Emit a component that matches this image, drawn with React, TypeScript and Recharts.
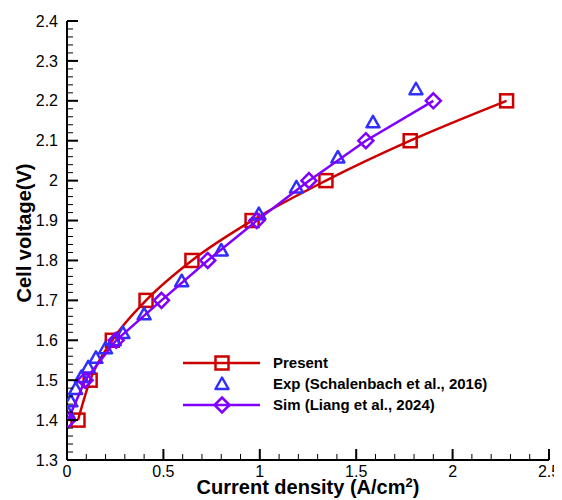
import React from "react";
import { ComposedChart, Scatter, XAxis, YAxis, Legend } from "recharts";

// Present model (red squares, smooth line)
const presentX = [0.057, 0.12, 0.235, 0.41, 0.648, 0.96, 1.343, 1.78, 2.28];
const presentY = [1.4, 1.5, 1.6, 1.7, 1.8, 1.9, 2.0, 2.1, 2.2];
// Experiment, Schalenbach et al. 2016 (blue triangles, no line)
const expX = [0.005, 0.02, 0.045, 0.075, 0.11, 0.15, 0.2, 0.245, 0.29, 0.4, 0.595, 0.8, 0.995, 1.19, 1.405, 1.587, 1.81];
const expY = [1.418, 1.447, 1.478, 1.508, 1.532, 1.556, 1.58, 1.6, 1.618, 1.665, 1.748, 1.825, 1.916, 1.983, 2.058, 2.146, 2.229];
// Simulation, Liang et al. 2024 (purple diamonds)
const simX = [0.005, 0.094, 0.255, 0.49, 0.73, 0.985, 1.255, 1.55, 1.9];
const simY = [1.4, 1.5, 1.6, 1.7, 1.8, 1.9, 2.0, 2.1, 2.2];

const xMajor = [0, 0.5, 1, 1.5, 2, 2.5];
const yMajor = [1.3, 1.4, 1.5, 1.6, 1.7, 1.8, 1.9, 2.0, 2.1, 2.2, 2.3, 2.4];
const xTicks = Array.from({ length: 26 }, (_, i) => Math.round(i * 10) / 100);
const yTicks = Array.from({ length: 56 }, (_, i) => Math.round(130 + i * 2) / 100);

const RED = "#cc0000";
const BLUE = "#2f2fff";
const PURPLE = "#8000ff";
const FONT = "'Liberation Sans', Arial, sans-serif";

const toPts = (xs: number[], ys: number[]) => xs.map((x, i) => ({ x, y: ys[i] }));
const presentData = toPts(presentX, presentY);
const expData = toPts(expX, expY);
const simData = toPts(simX, simY);

const isMajor = (v: number, list: number[]) => list.some((m) => Math.abs(m - v) < 1e-6);
const fmt = (v: number) => String(Number(v.toFixed(1)));

const Square = ({ cx, cy }: any) => (
  <rect x={cx - 6.5} y={cy - 6.5} width={13} height={13} fill="none" stroke={RED} strokeWidth={2.5} />
);
const Triangle = ({ cx, cy }: any) => (
  <path d={`M${cx},${cy - 6.5} L${cx + 6.5},${cy + 5} L${cx - 6.5},${cy + 5} Z`} fill="none" stroke={BLUE} strokeWidth={2.5} strokeLinejoin="round" />
);
const Diamond = ({ cx, cy }: any) => (
  <path d={`M${cx},${cy - 7.5} L${cx + 7.5},${cy} L${cx},${cy + 7.5} L${cx - 7.5},${cy} Z`} fill="none" stroke={PURPLE} strokeWidth={2.5} />
);

const BottomTick = ({ x, y, payload }: any) => {
  const major = isMajor(payload.value, xMajor);
  return (
    <g>
      <line x1={x} x2={x} y1={y} y2={y - (major ? 11 : 6)} stroke="#000" strokeWidth={major ? 2 : 1} />
      {major && (
        <text x={x} y={y + 17} textAnchor="middle" fontSize={16} fontFamily={FONT} fill="#000">
          {fmt(payload.value)}
        </text>
      )}
    </g>
  );
};
const TopTick = ({ x, y, payload }: any) => {
  const major = isMajor(payload.value, xMajor);
  return <line x1={x} x2={x} y1={y} y2={y + (major ? 11 : 6)} stroke="#000" strokeWidth={major ? 2 : 1} />;
};
const LeftTick = ({ x, y, payload }: any) => {
  const major = isMajor(payload.value, yMajor);
  return (
    <g>
      <line x1={x} x2={x + (major ? 11 : 6)} y1={y} y2={y} stroke="#000" strokeWidth={major ? 2 : 1} />
      {major && (
        <text x={x - 9} y={y} dy="0.35em" textAnchor="end" fontSize={16} fontFamily={FONT} fill="#000">
          {fmt(payload.value)}
        </text>
      )}
    </g>
  );
};
const RightTick = ({ x, y, payload }: any) => {
  const major = isMajor(payload.value, yMajor);
  return <line x1={x} x2={x - (major ? 11 : 6)} y1={y} y2={y} stroke="#000" strokeWidth={major ? 2 : 1} />;
};

const legendItems = [
  { name: "Present", color: RED, line: true, Mark: Square },
  { name: "Exp (Schalenbach et al., 2016)", color: BLUE, line: false, Mark: Triangle },
  { name: "Sim (Liang et al., 2024)", color: PURPLE, line: true, Mark: Diamond },
];

const LegendBox = () => (
  <svg width={370} height={75}>
    {legendItems.map((it, i) => {
      const y = 15 + i * 21;
      return (
        <g key={it.name}>
          {it.line && <line x1={5} x2={82} y1={y} y2={y} stroke={it.color} strokeWidth={2.5} />}
          <it.Mark cx={44} cy={y} />
          <text x={95} y={y} dy="0.35em" fontSize={15} fontWeight="bold" fontFamily={FONT} fill="#000">
            {it.name}
          </text>
        </g>
      );
    })}
  </svg>
);

export default function App() {
  return (
    <div style={{ width: 560, height: 492, fontFamily: FONT }}>
      <ComposedChart width={560} height={492} margin={{ top: 13, right: 19, bottom: 0, left: 0 }}>
        <XAxis xAxisId="b" dataKey="x" type="number" domain={[0, 2.5]} ticks={xTicks} interval={0} allowDataOverflow
          height={40} tickSize={0} tickMargin={0} tickLine={false} tick={<BottomTick />}
          axisLine={{ stroke: "#000", strokeWidth: 2 }}
          label={{
            content: () => (
              <text x={300} y={486} textAnchor="middle" fontSize={20} fontWeight="bold" fontFamily={FONT} fill="#000">
                Current density (A/cm<tspan dy={-7} fontSize={13}>2</tspan><tspan dy={7}>)</tspan>
              </text>
            ),
          }} />
        <XAxis xAxisId="t" orientation="top" dataKey="x" type="number" domain={[0, 2.5]} ticks={xTicks} interval={0} allowDataOverflow
          height={0} tickSize={0} tickMargin={0} tickLine={false} tick={<TopTick />}
          axisLine={{ stroke: "#000", strokeWidth: 2 }} />
        <YAxis yAxisId="l" dataKey="y" type="number" domain={[1.3, 2.4]} ticks={yTicks} interval={0} allowDataOverflow
          width={59} tickSize={0} tickMargin={0} tickLine={false} tick={<LeftTick />}
          axisLine={{ stroke: "#000", strokeWidth: 2 }}
          label={{
            content: () => (
              <text x={16} y={225} transform="rotate(-90 16 225)" dy="0.35em" textAnchor="middle" fontSize={20} fontWeight="bold" fontFamily={FONT} fill="#000">
                Cell voltage(V)
              </text>
            ),
          }} />
        <YAxis yAxisId="r" orientation="right" dataKey="y" type="number" domain={[1.3, 2.4]} ticks={yTicks} interval={0} allowDataOverflow
          width={0} tickSize={0} tickMargin={0} tickLine={false} tick={<RightTick />}
          axisLine={{ stroke: "#000", strokeWidth: 2 }} />
        <Scatter name="Present" data={presentData} xAxisId="b" yAxisId="l" line={{ stroke: RED, strokeWidth: 2.5 }}
          lineJointType="monotoneX" shape={<Square />} isAnimationActive={false} />
        <Scatter name="Exp" data={expData} xAxisId="b" yAxisId="l" shape={<Triangle />} isAnimationActive={false} />
        <Scatter name="Sim" data={simData} xAxisId="b" yAxisId="l" line={{ stroke: PURPLE, strokeWidth: 2.5 }}
          shape={<Diamond />} isAnimationActive={false} />
        <Legend content={<LegendBox />} layout="vertical" align="center" verticalAlign="middle"
          wrapperStyle={{ position: "absolute", left: 170, top: 340, width: 370 }} />
      </ComposedChart>
    </div>
  );
}
